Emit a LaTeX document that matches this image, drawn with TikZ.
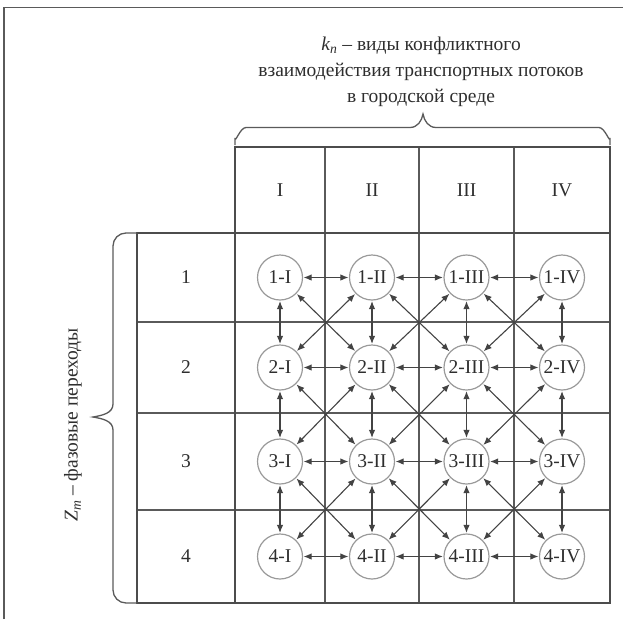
\documentclass[tikz,border=0pt]{standalone}
\usepackage{fontspec}
\setmainfont{Liberation Serif}
\usetikzlibrary{arrows.meta}
\definecolor{ink}{HTML}{2E2E2E}
\definecolor{gridc}{HTML}{5A5A5A}
\definecolor{circc}{HTML}{9A9A9A}
\begin{document}
\begin{tikzpicture}[x=1pt,y=-1pt,
  outer/.style={line width=1.8pt, draw=gridc!85!black},
  inner/.style={line width=1.2pt, draw=gridc},
  state/.style={circle, draw=circc, line width=1.2pt, fill=white, minimum size=45pt, inner sep=0pt, text=ink, font=\fontsize{19.5}{22}\selectfont},
  lbl/.style={text=ink, font=\fontsize{19.5}{22}\selectfont},
  conn/.style={draw=ink!90, line width=1.1pt, {Latex[length=8pt,width=6.5pt]}-{Latex[length=8pt,width=6.5pt]}, shorten <=0.5pt, shorten >=0.5pt},
  bracec/.style={draw=gridc, line width=1.3pt}]
\useasboundingbox (0,0) rectangle (623,619);
% frame (partial)
\draw[line width=1.3pt, draw=gridc] (4,619) -- (4,7.5) -- (623,7.5);
% header row
\draw[inner] (325,147) -- (325,233) (419,147) -- (419,233) (514,147) -- (514,233);
\draw[outer] (235,147) rectangle (610,233);
% main grid
\draw[inner] (325,233) -- (325,603) (419,233) -- (419,603) (514,233) -- (514,603);
\draw[inner] (137,322) -- (610,322) (137,413) -- (610,413) (137,510) -- (610,510);
\draw[outer] (235,233) rectangle (610,603);
\draw[outer] (137,233) rectangle (235,603);
% header labels
\node[lbl] (hI) at (280,190) {I};
\node[lbl] (hII) at (372,190) {II};
\node[lbl] (hIII) at (466.5,190) {III};
\node[lbl] (hIV) at (562,190) {IV};
% row labels
\foreach \r/\y in {1/277.5,2/367.5,3/461.5,4/556.5}
  \node[lbl] (row\r) at (186,\y) {\r};
% states
\foreach \r/\y in {1/277.5,2/367.5,3/461.5,4/556.5}
  \foreach \c/\x/\R in {1/280/I,2/372/II,3/466.5/III,4/562/IV}
    \node[state] (n\r\c) at (\x,\y) {\r-\R};
% horizontal
\foreach \r in {1,2,3,4}
  \foreach \c/\d in {1/2,2/3,3/4}
    \draw[conn] (n\r\c) -- (n\r\d);
% vertical
\foreach \r/\s in {1/2,2/3,3/4}
  \foreach \c in {1,2,3,4}
    \draw[conn] (n\r\c) -- (n\s\c);
% diagonal
\foreach \r/\s in {1/2,2/3,3/4}
  \foreach \c/\d in {1/2,2/3,3/4}{
    \draw[conn] (n\r\c) -- (n\s\d);
    \draw[conn] (n\s\c) -- (n\r\d);
  }
% top brace
\draw[bracec] (235,145) -- (235,138) to[out=-90,in=180] (246,127.5) -- (410,127.5) to[out=0,in=-100] (423,114) to[out=-80,in=180] (436,127.5) -- (599,127.5) to[out=0,in=-90] (610,138) -- (610,145);
% left brace
\draw[bracec] (137,233) -- (126,233) to[out=180,in=90] (113,246) -- (113,404) to[out=-90,in=10] (93,417) to[out=-10,in=90] (113,430) -- (113,590) to[out=-90,in=180] (126,603) -- (137,603);
% texts
\node[lbl, align=center, font=\fontsize{19.5}{26}\selectfont] (top) at (421,72)
  {\textit{k}\textsubscript{\textit{n}} – виды конфликтного\\ взаимодействия транспортных потоков\\ в городской среде};
\node[lbl, rotate=90] (left) at (73,425) {\textit{Z}\textsubscript{\textit{m}} – фазовые переходы};
\end{tikzpicture}
\end{document}
